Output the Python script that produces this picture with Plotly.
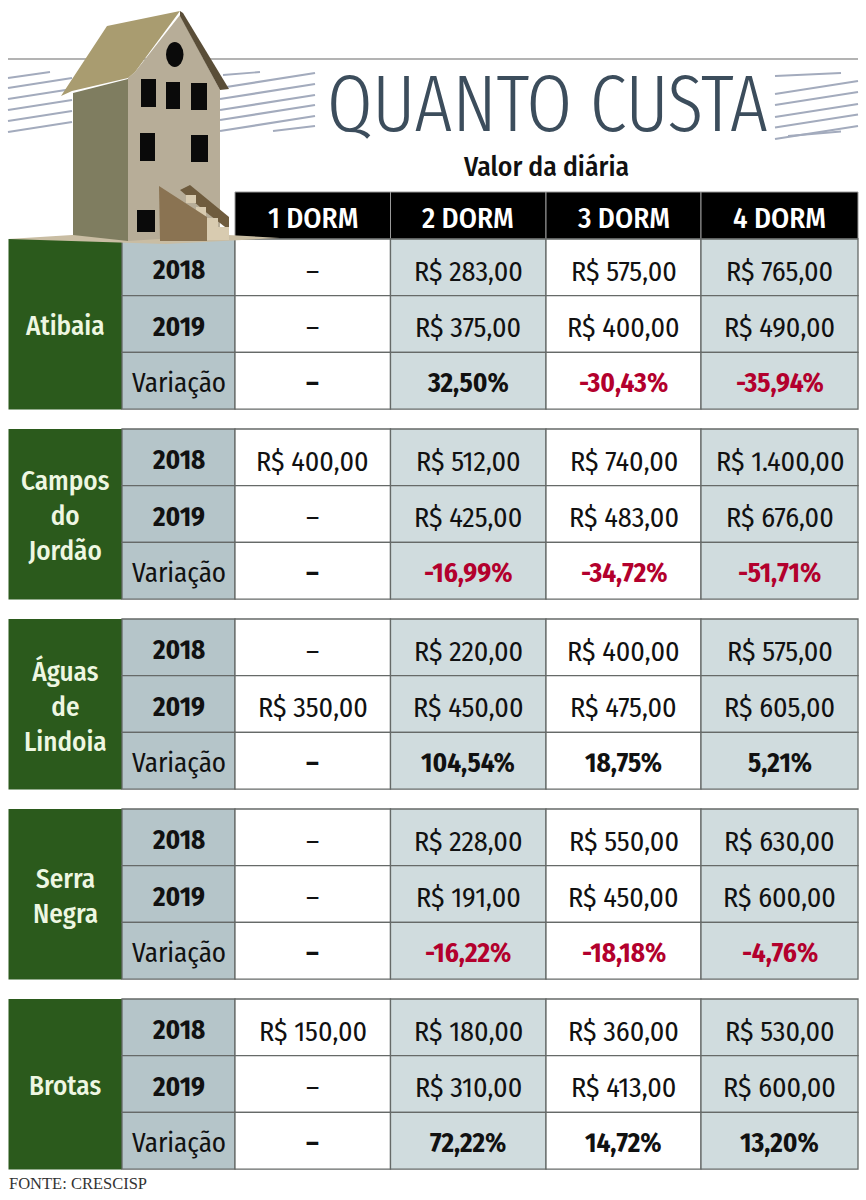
import plotly.graph_objects as go

# dados
dorms = ["1 DORM", "2 DORM", "3 DORM", "4 DORM"]
cities = ["Atibaia", "Campos<br>do<br>Jordão", "Águas<br>de<br>Lindoia", "Serra<br>Negra", "Brotas"]
row_labels = ["2018", "2019", "Variação"]

atibaia = [["–", "R$ 283,00", "R$ 575,00", "R$ 765,00"],
           ["–", "R$ 375,00", "R$ 400,00", "R$ 490,00"],
           ["–", "32,50%", "-30,43%", "-35,94%"]]
campos = [["R$ 400,00", "R$ 512,00", "R$ 740,00", "R$ 1.400,00"],
          ["–", "R$ 425,00", "R$ 483,00", "R$ 676,00"],
          ["–", "-16,99%", "-34,72%", "-51,71%"]]
aguas = [["–", "R$ 220,00", "R$ 400,00", "R$ 575,00"],
         ["R$ 350,00", "R$ 450,00", "R$ 475,00", "R$ 605,00"],
         ["–", "104,54%", "18,75%", "5,21%"]]
serra = [["–", "R$ 228,00", "R$ 550,00", "R$ 630,00"],
         ["–", "R$ 191,00", "R$ 450,00", "R$ 600,00"],
         ["–", "-16,22%", "-18,18%", "-4,76%"]]
brotas = [["R$ 150,00", "R$ 180,00", "R$ 360,00", "R$ 530,00"],
          ["–", "R$ 310,00", "R$ 413,00", "R$ 600,00"],
          ["–", "72,22%", "14,72%", "13,20%"]]
tables = [atibaia, campos, aguas, serra, brotas]

# layout da tabela, em pixels
col_x = [235, 390.5, 546, 701, 858]
block_top = [239, 429, 619, 809, 999]
row_h = 56.7
GREEN, LABEL_BG, SHADE, GRID, RED = "#2b5a1c", "#b5c5c9", "#d0dcde", "#666a68", "#b3002d"
STRIPE = "#a3abbd"
NARROW = "Fira Sans Condensed, Roboto Condensed, Open Sans"
TITLE = "Fira Sans Extra Condensed, Roboto Condensed, Lato"

fig = go.Figure()


def rect(x0, y0, x1, y1, fill, line=None, w=1.3):
    fig.add_shape(type="rect", x0=x0, y0=y0, x1=x1, y1=y1, fillcolor=fill,
                  line=dict(color=line, width=w) if line else dict(width=0))


def poly(points, fill):
    path = "M " + " L ".join(f"{x},{y}" for x, y in points) + " Z"
    fig.add_shape(type="path", path=path, fillcolor=fill, line=dict(width=0))


def text(x, y, s, size, color="#111111", weight=400, family=NARROW, **kw):
    fig.add_annotation(x=x, y=y, text=s, showarrow=False,
                       font=dict(family=family, size=size, color=color, weight=weight), **kw)


def stripes(x0, x1, y_right, rise):
    for y in y_right:
        fig.add_shape(type="line", x0=x0, x1=x1, y0=y + rise, y1=y,
                      line=dict(color=STRIPE, width=2.2))


def short_stripe(x0, y0, x1, y1):
    fig.add_shape(type="line", x0=x0, x1=x1, y0=y0, y1=y1, line=dict(color=STRIPE, width=1.8))


# fios e listras do topo
fig.add_shape(type="line", x0=8, x1=858, y0=59, y1=59, line=dict(color="#9a9a9a", width=1.5))
stripes(8, 72, [78, 89, 100, 111, 122], 10)
stripes(220, 315, [73, 84, 95, 105, 116], 15)
stripes(775, 858, [81, 92, 104, 114.5, 126], 13)
short_stripe(8, 78, 50, 72)
short_stripe(223, 75, 260, 72)
short_stripe(273, 131, 315, 126)
short_stripe(775, 76, 841, 73)
short_stripe(788, 136, 841, 131.5)

text(547, 104, "QUANTO CUSTA", 80, color="#3c4d5c", weight=300, family=TITLE)
text(546, 166, "Valor da diária", 27.5, weight=500)

# cabeçalho
for i, d in enumerate(dorms):
    rect(col_x[i], 192, col_x[i + 1], 239, "#000000", "#9a9a9a", 1)
    text((col_x[i] + col_x[i + 1]) / 2, 218, d, 29, color="#ffffff", weight=500)

# blocos das cidades
for top, city, table in zip(block_top, cities, tables):
    rect(8.5, top, 122, top + 3 * row_h + 0.5, GREEN)
    text(65, top + 87, city, 27, color="#eef7e2", weight=500)
    for r, vals in enumerate(table):
        y0 = top + r * row_h
        rect(122, y0, 235, y0 + row_h, LABEL_BG, GRID)
        text(178.5, y0 + 31, row_labels[r], 27, weight=700 if r < 2 else 400)
        for c, v in enumerate(vals):
            rect(col_x[c], y0, col_x[c + 1], y0 + row_h, SHADE if c % 2 else "#ffffff", GRID)
            is_var = r == 2
            color = RED if is_var and v.startswith("-") else "#111111"
            text((col_x[c] + col_x[c + 1]) / 2, y0 + (31 if is_var else 32), v, 27 if is_var else 28,
                 color=color, weight=700 if is_var else 400)

text(7, 1183, "FONTE: CRESCISP", 16.5, color="#333333", family="Liberation Serif", xanchor="left")

# casinha de papelão
poly([(8, 239), (72, 235), (228, 235), (280, 238), (166, 244), (8, 239)], "#c9bda3")
poly([(73, 93), (128, 79), (128, 241), (73, 235)], "#7f7d60")
poly([(128, 78), (135, 72), (180, 15), (220, 90), (220, 235), (128, 241)], "#b7ad98")
poly([(61, 96), (107, 26), (180, 11), (135, 72), (128, 78), (72, 91)], "#a99c70")
poly([(180, 11), (183, 13), (229, 89), (220, 90), (180, 16)], "#5a4e38")
for x0, y0, x1, y1 in [(141, 79, 156, 107), (166, 82, 180, 109), (191, 83, 207, 110),
                       (140, 133, 155, 161), (191, 135, 208, 162), (137, 210, 155, 232)]:
    rect(x0, y0, x1, y1, "#0a0a0a")
fig.add_shape(type="circle", x0=166, y0=42, x1=183.5, y1=67, fillcolor="#0a0a0a", line=dict(width=0))
poly([(180, 190), (190, 185), (229, 217), (229, 230), (207, 213)], "#6f5c3e")
for x0, y0, x1, y1 in [(186, 195, 196, 203), (196, 207, 206, 217), (206, 218, 218, 228), (207, 227, 229, 240)]:
    rect(x0, y0, x1, y1, "#d8cbb0")
poly([(159, 186), (207, 217), (207, 241), (160, 241)], "#8a7352")

fig.update_xaxes(range=[0, 866], visible=False, fixedrange=True)
fig.update_yaxes(range=[1200, 0], visible=False, fixedrange=True)
fig.update_layout(width=866, height=1200, margin=dict(l=0, r=0, t=0, b=0),
                  paper_bgcolor="#ffffff", plot_bgcolor="#ffffff", showlegend=False)

fig.write_html("out.html", config=dict(displayModeBar=False), post_script="document.body.style.margin='0';")
